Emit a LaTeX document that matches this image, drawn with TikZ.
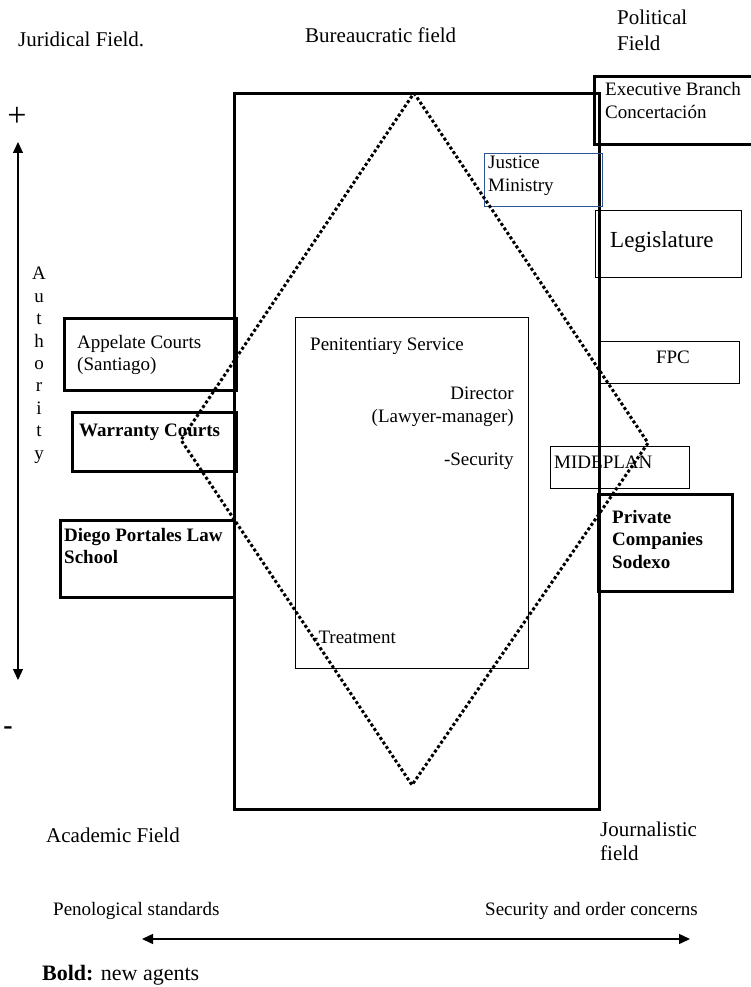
\documentclass[tikz,border=0pt]{standalone}
\usepackage{fontspec}
\setmainfont{Liberation Serif}
\usepackage{tikz}
\usetikzlibrary{positioning,calc,arrows.meta}
\pgfdeclarelayer{foreground}
\pgfsetlayers{main,foreground}
\tikzstyle{field} = [inner sep=0pt, anchor=base west, align=left, font=\fontsize{21}{26}\selectfont]
\tikzstyle{agent} = [inner sep=0pt, anchor=base west, align=left, font=\fontsize{19}{23}\selectfont]
\tikzstyle{newagent} = [agent, font=\fontsize{19}{22.5}\selectfont\bfseries]
\tikzstyle{box} = [rectangle, draw=black, line width=2.6pt, anchor=north west, inner sep=0pt]
\tikzstyle{thinbox} = [box, line width=0.9pt]
\tikzstyle{axis} = [line width=1.4pt, {Triangle[width=10pt,length=11pt]}-{Triangle[width=10pt,length=11pt]}]
\definecolor{ministryblue}{RGB}{46,84,150}

\begin{document}
\begin{tikzpicture}[x=1pt,y=-1pt]
        \useasboundingbox (0,0) rectangle (750,987);
        % Bureaucratic field ----------------------------------------------------------------------
        \node[box, line width=3pt, minimum width=365pt, minimum height=716pt](bureau) at (233,92){};
        \node[thinbox, minimum width=233pt, minimum height=351pt](penitentiary) at (295,317){};
        \node[agent](penitentiary_text) at ([xshift=15pt, yshift=-33pt]penitentiary.north west){Penitentiary Service};
        \node[agent, anchor=base east, align=right](director) at ([xshift=-15pt, yshift=-105pt]penitentiary.north east){Director\\(Lawyer-manager)};
        \node[agent, anchor=base east](security) at ([xshift=-15pt, yshift=-148pt]penitentiary.north east){-Security};
        \node[agent](treatment) at ([xshift=17pt, yshift=25pt]penitentiary.south west){-Treatment};
        % Political field -------------------------------------------------------------------------
        \node[box, minimum width=162pt, minimum height=68pt](executive) at (593,75){};
        \node[agent](executive_text) at ([xshift=12pt, yshift=-44pt]executive.north west){Executive Branch\\Concertación};
        \node[thinbox, draw=ministryblue, minimum width=118pt, minimum height=53pt](justice) at (484,153){};
        \node[agent](justice_text) at ([xshift=4pt, yshift=-38pt]justice.north west){Justice\\Ministry};
        \node[thinbox, minimum width=146pt, minimum height=67pt](legislature) at (595,210){};
        \node[agent, font=\fontsize{23}{27}\selectfont](legislature_text) at ([xshift=15pt, yshift=-37pt]legislature.north west){Legislature};
        \node[thinbox, minimum width=140pt, minimum height=42pt](fpc) at (599,341){};
        \node[agent, anchor=base](fpc_text) at ([xshift=74pt, yshift=-22pt]fpc.north west){FPC};
        \node[thinbox, minimum width=139pt, minimum height=42pt](mideplan) at (550,446){};
        \node[agent](mideplan_text) at ([xshift=4pt, yshift=-22pt]mideplan.north west){MIDEPLAN};
        \node[box, minimum width=134pt, minimum height=97pt](private) at (597,493){};
        \node[newagent](private_text) at ([xshift=15pt, yshift=-75pt]private.north west){Private\\Companies\\Sodexo};
        % Juridical and academic field ------------------------------------------------------------
        \node[box, minimum width=172pt, minimum height=72pt](appelate) at (63,317){};
        \node[agent, font=\fontsize{19}{22}\selectfont](appelate_text) at ([xshift=14pt, yshift=-53pt]appelate.north west){Appelate Courts\\(Santiago)};
        \node[box, minimum width=164pt, minimum height=59pt](warranty) at (71,411){};
        \node[newagent](warranty_text) at ([xshift=8pt, yshift=-25pt]warranty.north west){Warranty Courts};
        \node[box, minimum width=174pt, minimum height=77pt](diego) at (59,519){};
        \node[newagent, font=\fontsize{19}{22}\selectfont\bfseries](diego_text) at ([xshift=5pt, yshift=-44pt]diego.north west){Diego Portales Law\\School};
        % Field labels ----------------------------------------------------------------------------
        \node[field](juridical) at (18,47){Juridical Field.};
        \node[field](bureaucratic) at (305,43){Bureaucratic field};
        \node[field](political) at (617,51){Political\\Field};
        \node[field](academic) at (46,842){Academic Field};
        \node[field, font=\fontsize{21}{24}\selectfont](journalistic) at (600,860){Journalistic\\field};
        % Authority axis --------------------------------------------------------------------------
        \node[inner sep=0pt, font=\fontsize{34}{34}\selectfont](plus) at (17,117){+};
        \node[inner sep=0pt, font=\fontsize{28}{28}\selectfont\bfseries](minus) at (8,731){-};
        \coordinate (authority_top) at (18,142);
        \coordinate (authority_bottom) at (18,680);
        \draw[axis, line width=1.2pt] (authority_top) -- (authority_bottom);
        \node[agent, anchor=base, align=center, font=\fontsize{19}{22.4}\selectfont](authority) at (39,459){A\\u\\t\\h\\o\\r\\i\\t\\y};
        % Concerns axis ---------------------------------------------------------------------------
        \node[agent](penological) at (53,915){Penological standards};
        \node[agent, anchor=base east](concerns) at (698,915){Security and order concerns};
        \coordinate (concerns_left) at (142,939);
        \coordinate (concerns_right) at (690,939);
        \draw[axis] (concerns_left) -- (concerns_right);
        % Legend ----------------------------------------------------------------------------------
        \node[field, font=\fontsize{22}{26}\selectfont](legend) at (42,980){\textbf{Bold:} new agents};
        % Diamond ---------------------------------------------------------------------------------
        \begin{pgfonlayer}{foreground}
            \coordinate (diamond_top) at (414,93);
            \coordinate (diamond_right) at (648,443);
            \coordinate (diamond_bottom) at (412,785);
            \coordinate (diamond_left) at (181,440);
            \draw[line width=3pt, dash pattern=on 3pt off 2.4pt] (diamond_top) -- (diamond_right) -- (diamond_bottom) -- (diamond_left) -- cycle;
        \end{pgfonlayer}
    \end{tikzpicture}
\end{document}
